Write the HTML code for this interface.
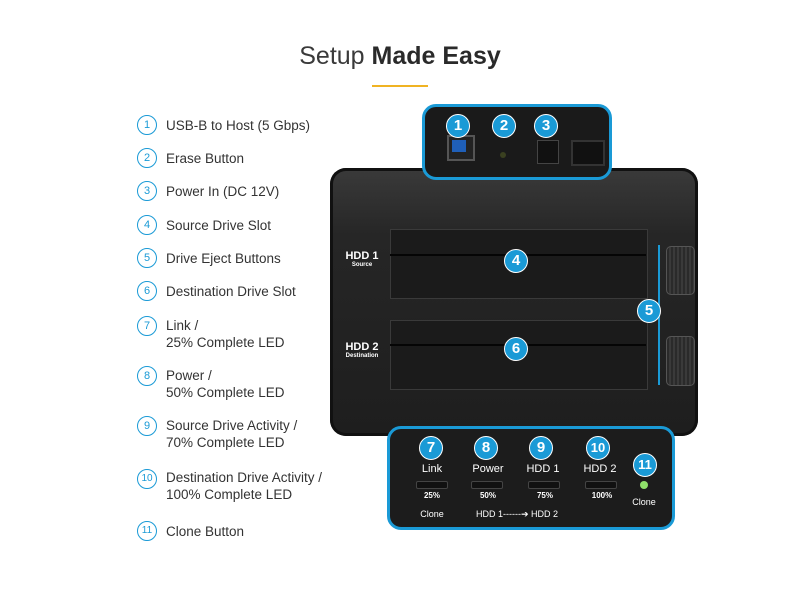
<!DOCTYPE html>
<html><head><style>
body{margin:0;width:800px;height:600px;background:#fff;position:relative;overflow:hidden;font-family:"Liberation Sans",sans-serif}
.a{position:absolute}
.t{position:absolute;left:0;width:800px;text-align:center;top:42px;font-size:25px;color:#3a3a3a}
.li{position:absolute;left:166px;font-size:13.5px;color:#333;line-height:17px}
.oc{position:absolute;left:137px;width:18px;height:18px;border:1.6px solid #1a9ad6;border-radius:50%;color:#1a9ad6;font-size:11px;text-align:center;line-height:18px;box-sizing:content-box}
.bc{position:absolute;width:22px;height:22px;border-radius:50%;background:#1a9ad6;color:#fff;font-weight:bold;font-size:15px;text-align:center;line-height:22px;border:1px solid #fff}
.w{position:absolute;color:#fff;text-align:center}
.led{position:absolute;width:30px;height:6px;background:#111;border:1px solid #444;border-radius:2px}
</style></head><body>
<div class="t">Setup <span style="font-weight:bold;color:#2a2a2a">Made Easy</span></div>
<div class="a" style="left:372px;top:85px;width:56px;height:2px;background:#f0b323"></div>

<div class="oc" style="top:115px">1</div><div class="li" style="top:117px">USB-B to Host (5 Gbps)</div>
<div class="oc" style="top:148px">2</div><div class="li" style="top:150px">Erase Button</div>
<div class="oc" style="top:181px">3</div><div class="li" style="top:183px">Power In (DC 12V)</div>
<div class="oc" style="top:215px">4</div><div class="li" style="top:217px">Source Drive Slot</div>
<div class="oc" style="top:248px">5</div><div class="li" style="top:250px">Drive Eject Buttons</div>
<div class="oc" style="top:281px">6</div><div class="li" style="top:283px">Destination Drive Slot</div>
<div class="oc" style="top:316px">7</div><div class="li" style="top:317px">Link /<br>25% Complete LED</div>
<div class="oc" style="top:366px">8</div><div class="li" style="top:367px">Power /<br>50% Complete LED</div>
<div class="oc" style="top:416px">9</div><div class="li" style="top:417px">Source Drive Activity /<br>70% Complete LED</div>
<div class="oc" style="top:469px;font-size:10px">10</div><div class="li" style="top:469px">Destination Drive Activity /<br>100% Complete LED</div>
<div class="oc" style="top:521px;font-size:10px">11</div><div class="li" style="top:523px">Clone Button</div>

<div class="a" style="left:330px;top:168px;width:368px;height:268px;border-radius:16px;background:linear-gradient(#3a3a3a,#262626 25%,#1e1e1e);box-shadow:inset 0 0 0 3px #111"></div>
<div class="a" style="left:390px;top:229px;width:256px;height:68px;background:#1b1b1b;border:1px solid #3a3a3a"></div>
<div class="a" style="left:390px;top:254px;width:256px;height:2px;background:#050505"></div>
<div class="a" style="left:390px;top:320px;width:256px;height:68px;background:#1b1b1b;border:1px solid #3a3a3a"></div>
<div class="a" style="left:390px;top:344px;width:256px;height:2px;background:#050505"></div>
<div class="w" style="left:340px;top:250px;width:44px;font-size:11px;font-weight:bold">HDD 1<div style="font-size:6px">Source</div></div>
<div class="w" style="left:338px;top:341px;width:48px;font-size:11px;font-weight:bold">HDD 2<div style="font-size:6px">Destination</div></div>
<div class="bc" style="left:504px;top:249px">4</div>
<div class="bc" style="left:504px;top:337px">6</div>
<div class="a" style="left:666px;top:246px;width:27px;height:47px;border-radius:5px;background:repeating-linear-gradient(90deg,#2a2a2a 0 2px,#3a3a3a 2px 4px);border:1px solid #555"></div>
<div class="a" style="left:666px;top:336px;width:27px;height:48px;border-radius:5px;background:repeating-linear-gradient(90deg,#2a2a2a 0 2px,#3a3a3a 2px 4px);border:1px solid #555"></div>
<div class="a" style="left:658px;top:245px;width:2px;height:140px;background:#1a9ad6"></div>
<div class="bc" style="left:637px;top:299px">5</div>

<div class="a" style="left:422px;top:104px;width:184px;height:70px;border:3px solid #1a9ad6;border-radius:14px;background:#1a1a1a"></div>
<div class="a" style="left:447px;top:135px;width:24px;height:22px;background:#222;border:2px solid #555"></div>
<div class="a" style="left:452px;top:140px;width:14px;height:12px;background:#1f5fb8"></div>
<div class="a" style="left:500px;top:152px;width:6px;height:6px;border-radius:50%;background:#3a4020"></div>
<div class="a" style="left:537px;top:140px;width:20px;height:22px;background:#111;border:1px solid #444"></div>
<div class="a" style="left:571px;top:140px;width:30px;height:22px;background:#111;border:2px solid #333"></div>
<div class="bc" style="left:446px;top:114px">1</div>
<div class="bc" style="left:492px;top:114px">2</div>
<div class="bc" style="left:534px;top:114px">3</div>

<div class="a" style="left:387px;top:426px;width:282px;height:98px;border:3px solid #1a9ad6;border-radius:14px;background:#1c1c1c"></div>
<div class="bc" style="left:419px;top:436px">7</div>
<div class="bc" style="left:474px;top:436px">8</div>
<div class="bc" style="left:529px;top:436px">9</div>
<div class="bc" style="left:586px;top:436px;font-size:13px">10</div>
<div class="bc" style="left:633px;top:453px;font-size:13px">11</div>
<div class="w" style="left:412px;top:463px;width:40px;font-size:11px">Link</div>
<div class="w" style="left:465px;top:463px;width:46px;font-size:11px">Power</div>
<div class="w" style="left:520px;top:463px;width:46px;font-size:11px">HDD 1</div>
<div class="w" style="left:577px;top:463px;width:46px;font-size:11px">HDD 2</div>
<div class="led" style="left:416px;top:481px"></div>
<div class="led" style="left:471px;top:481px"></div>
<div class="led" style="left:528px;top:481px"></div>
<div class="led" style="left:585px;top:481px"></div>
<div class="a" style="left:640px;top:481px;width:8px;height:8px;border-radius:50%;background:#8fe06a"></div>
<div class="w" style="left:412px;top:491px;width:40px;font-size:8px;font-weight:bold">25%</div>
<div class="w" style="left:468px;top:491px;width:40px;font-size:8px;font-weight:bold">50%</div>
<div class="w" style="left:525px;top:491px;width:40px;font-size:8px;font-weight:bold">75%</div>
<div class="w" style="left:582px;top:491px;width:40px;font-size:8px;font-weight:bold">100%</div>
<div class="w" style="left:624px;top:497px;width:40px;font-size:9px">Clone</div>
<div class="w" style="left:412px;top:509px;width:40px;font-size:9px">Clone</div>
<div class="w" style="left:462px;top:509px;width:110px;font-size:9px">HDD 1------➔ HDD 2</div>
</body></html>
